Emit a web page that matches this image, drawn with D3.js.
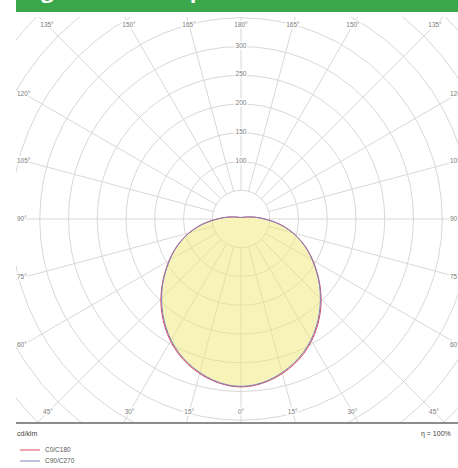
<!DOCTYPE html>
<html>
<head>
<meta charset="utf-8">
<script src="https://cdn.jsdelivr.net/npm/d3@7"></script>
<style>
  body { margin: 0; background: #fff; }
  svg { display: block; font-family: "Liberation Sans", Arial, sans-serif; }
  .grid line, .grid circle { stroke: #d8d8d8; stroke-width: 1; fill: none; }
  .angle-label, .radius-label { font-size: 6.5px; fill: #7a7a7a; paint-order: stroke; stroke: #fff; stroke-width: 3px; }
  .foot-text { font-size: 7px; fill: #444; }
  .legend-text { font-size: 6.5px; fill: #555; }
</style>
</head>
<body>
<svg id="chart"></svg>
<script>
// Luminous intensity (cd/klm), per gamma angle
const gammaAngles = [0, 5, 10, 15, 20, 25, 30, 35, 40, 45, 50, 55, 60, 65, 70, 75, 80, 85, 90, 95, 100, 105, 110, 115, 120, 135, 150, 165, 180];
const c0c180 = [293, 291, 286, 279, 270, 259, 246, 231, 215, 198, 180, 162, 145, 129, 112, 95, 78, 60, 43, 30, 21, 14, 10, 8, 6, 4, 3, 3, 2];
const c90c270 = [292, 290, 285, 277, 268, 257, 244, 229, 213, 196, 179, 161, 144, 128, 111, 94, 77, 59, 42, 29, 20, 14, 10, 8, 6, 4, 3, 3, 2];
const seriesNames = ['C0/C180', 'C90/C270'];
const seriesColors = ['#dc4a5c', '#7f82c4'];

const radiusTicks = [100, 150, 200, 250, 300];
const gridRadii = [50, 100, 150, 200, 250, 300, 350, 400, 450, 500, 550, 600];
const angleTicks = [0, 15, 30, 45, 60, 75, 90, 105, 120, 135, 150, 165, 180];

const unitLabel = 'cd/klm';
const efficiencyLabel = 'η = 100%';
const titleText = 'Light technical parameters';

class PolarDiagram {
  constructor(_config) {
    this.config = {
      parentElement: _config.parentElement,
      containerWidth: 458,
      containerHeight: 468,
      center: { x: 241, y: 219 },
      plot: { left: 16, top: 17, right: 470, bottom: 423 },
      labelBox: { side: 217, top: 194, bottom: 193 }
    };
    this.initVis();
  }

  initVis() {
    let vis = this;
    const c = vis.config;

    vis.svg = d3.select(c.parentElement)
      .attr('width', c.containerWidth)
      .attr('height', c.containerHeight);

    // Green header bar, its title mostly cut off above the page
    vis.svg.append('rect')
      .attr('x', 16).attr('y', 0)
      .attr('width', c.containerWidth - 16).attr('height', 12)
      .attr('fill', '#3aa84a');
    vis.svg.append('text')
      .attr('x', 22).attr('y', -2)
      .attr('fill', '#fff')
      .style('font-family', '"Open Sans", sans-serif')
      .style('font-weight', 'bold')
      .style('font-size', '22px')
      .text(titleText);

    vis.svg.append('defs').append('clipPath')
      .attr('id', 'plot-clip')
      .append('rect')
      .attr('x', c.plot.left).attr('y', c.plot.top)
      .attr('width', c.plot.right - c.plot.left)
      .attr('height', c.plot.bottom - c.plot.top);

    vis.r = d3.scaleLinear().domain([0, 300]).range([0, 172.5]);

    vis.chart = vis.svg.append('g')
      .attr('clip-path', 'url(#plot-clip)')
      .append('g')
      .attr('transform', `translate(${c.center.x},${c.center.y})`);

    vis.gridG = vis.chart.append('g').attr('class', 'grid');
    vis.fillG = vis.chart.append('g');
    vis.curveG = vis.chart.append('g');
    vis.labelG = vis.svg.append('g');

    vis.renderVis();
  }

  // closed list of [d3 angle, value] going round both halves of the plane
  profile(values) {
    const rad = Math.PI / 180;
    const right = gammaAngles.map((g, i) => [Math.PI - g * rad, values[i]]);
    const left = gammaAngles.slice(1, -1).reverse()
      .map(g => [Math.PI + g * rad, values[gammaAngles.indexOf(g)]]);
    return right.concat(left);
  }

  renderVis() {
    let vis = this;
    const c = vis.config;

    // Grid circles
    vis.gridG.selectAll('circle')
      .data(gridRadii)
      .join('circle')
      .attr('r', d => vis.r(d));

    // Radial lines every 15 degrees, starting at the 50 circle
    const spokes = d3.range(0, 360, 15);
    vis.gridG.selectAll('line')
      .data(spokes)
      .join('line')
      .attr('x1', d => Math.sin(d * Math.PI / 180) * vis.r(50))
      .attr('y1', d => -Math.cos(d * Math.PI / 180) * vis.r(50))
      .attr('x2', d => Math.sin(d * Math.PI / 180) * vis.r(700))
      .attr('y2', d => -Math.cos(d * Math.PI / 180) * vis.r(700));

    const line = d3.lineRadial()
      .angle(d => d[0])
      .radius(d => vis.r(d[1]))
      .curve(d3.curveBasisClosed);

    // Yellow area under the C0/C180 curve
    vis.fillG.append('path')
      .attr('d', line(vis.profile(c0c180)))
      .attr('fill', '#f0e873')
      .attr('fill-opacity', 0.5);

    [c0c180, c90c270].forEach((values, i) => {
      vis.curveG.append('path')
        .attr('d', line(vis.profile(values)))
        .attr('fill', 'none')
        .attr('stroke', seriesColors[i])
        .attr('stroke-width', 1);
    });

    // Intensity labels along the 180 degree spoke
    vis.labelG.selectAll('.radius-label')
      .data(radiusTicks)
      .join('text')
      .attr('class', 'radius-label')
      .attr('x', c.center.x)
      .attr('y', d => c.center.y - vis.r(d) + 1)
      .attr('text-anchor', 'middle')
      .text(d => d);

    // Angle labels placed where each spoke meets the label box
    const angleData = [];
    angleTicks.forEach(g => {
      [1, -1].forEach(side => {
        if (side === -1 && (g === 0 || g === 180)) return;
        const dx = side * Math.sin(g * Math.PI / 180);
        const dy = Math.cos(g * Math.PI / 180);
        const tx = Math.abs(dx) > 1e-6 ? c.labelBox.side / Math.abs(dx) : Infinity;
        const ty = Math.abs(dy) > 1e-6 ? (dy > 0 ? c.labelBox.bottom : c.labelBox.top) / Math.abs(dy) : Infinity;
        const t = Math.min(tx, ty);
        angleData.push({ g, onSide: tx < ty, side, x: c.center.x + dx * t, y: c.center.y + dy * t });
      });
    });

    vis.labelG.selectAll('.angle-label')
      .data(angleData)
      .join('text')
      .attr('class', 'angle-label')
      .attr('x', d => d.onSide ? (d.side < 0 ? 17 : 450) : d.x)
      .attr('y', d => d.y)
      .attr('dy', '0.35em')
      .attr('text-anchor', d => d.onSide ? 'start' : 'middle')
      .text(d => `${d.g}°`);

    // Bottom rule and footer texts
    vis.svg.append('line')
      .attr('x1', 16).attr('x2', c.containerWidth)
      .attr('y1', c.plot.bottom).attr('y2', c.plot.bottom)
      .attr('stroke', '#666').attr('stroke-width', 1.5);

    vis.svg.append('text')
      .attr('class', 'foot-text')
      .attr('x', 17).attr('y', 436)
      .text(unitLabel);

    vis.svg.append('text')
      .attr('class', 'foot-text')
      .attr('x', 421).attr('y', 436)
      .text(efficiencyLabel);

    // Legend
    const legend = vis.svg.append('g')
      .selectAll('g')
      .data(seriesNames)
      .join('g')
      .attr('transform', (d, i) => `translate(20,${450 + i * 11})`);

    legend.append('line')
      .attr('x1', 0).attr('x2', 20)
      .attr('stroke', (d, i) => seriesColors[i])
      .attr('stroke-width', 1);

    legend.append('text')
      .attr('class', 'legend-text')
      .attr('x', 25).attr('dy', '0.35em')
      .text(d => d);
  }
}

const diagram = new PolarDiagram({ parentElement: '#chart' });
</script>
</body>
</html>
